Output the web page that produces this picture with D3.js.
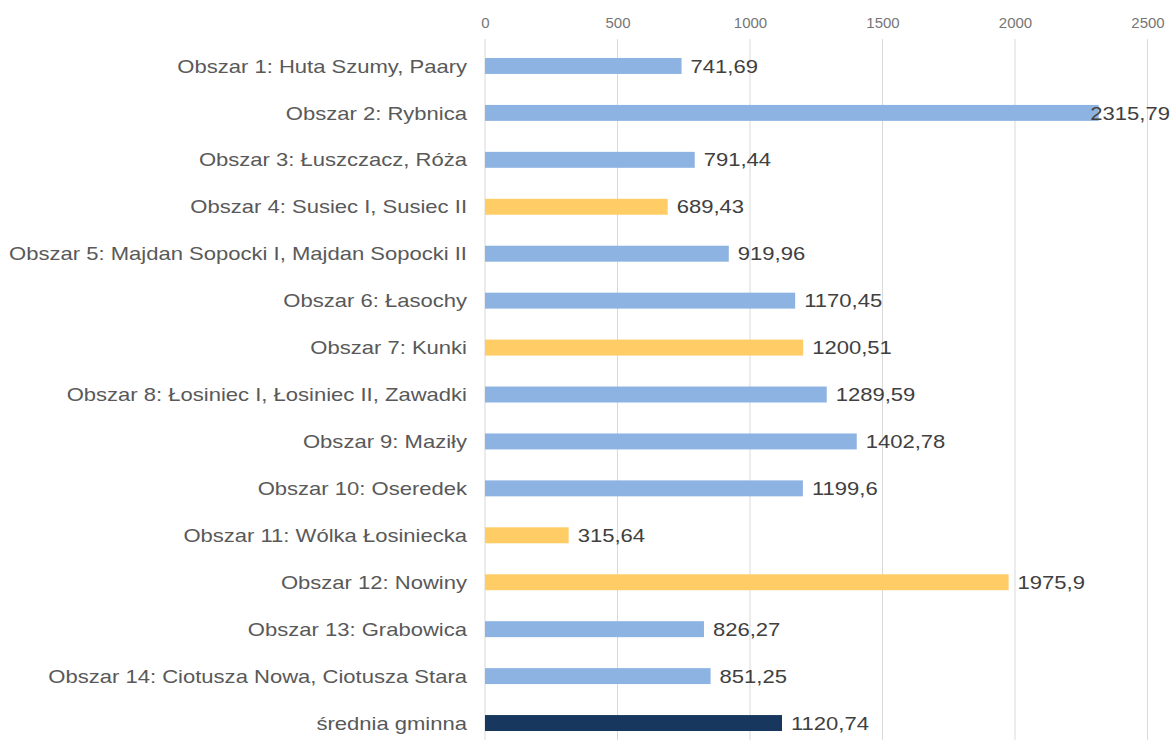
<!DOCTYPE html>
<html><head><meta charset="utf-8">
<script src="https://cdn.jsdelivr.net/npm/d3@7"></script>
<style>body{margin:0;background:#fff}svg{display:block}</style>
</head><body><svg id="c" width="1173" height="740"></svg>
<script>
const categories = ["Obszar 1: Huta Szumy, Paary","Obszar 2: Rybnica","Obszar 3: Łuszczacz, Róża","Obszar 4: Susiec I, Susiec II","Obszar 5: Majdan Sopocki I, Majdan Sopocki II","Obszar 6: Łasochy","Obszar 7: Kunki","Obszar 8: Łosiniec I, Łosiniec II, Zawadki","Obszar 9: Maziły","Obszar 10: Oseredek","Obszar 11: Wólka Łosiniecka","Obszar 12: Nowiny","Obszar 13: Grabowica","Obszar 14: Ciotusza Nowa, Ciotusza Stara","średnia gminna"];
const values = [741.69,2315.79,791.44,689.43,919.96,1170.45,1200.51,1289.59,1402.78,1199.6,315.64,1975.9,826.27,851.25,1120.74];
const valueLabels = ["741,69","2315,79","791,44","689,43","919,96","1170,45","1200,51","1289,59","1402,78","1199,6","315,64","1975,9","826,27","851,25","1120,74"];
const groups = ["a","a","a","b","a","a","b","a","a","a","b","b","a","a","c"];
const ticks = [0,500,1000,1500,2000,2500];
const colors = {a:"#8db3e2", b:"#ffcc66", c:"#17375e"};

const FONT = "'Liberation Sans', Arial, sans-serif";
const SX = 1.16;
const W = 1173;
const svg = d3.select("#c");
const x = d3.scaleLinear().domain([0,2500]).range([485,1147.5]);
const y = d3.scaleBand().domain(categories).range([42.5,746.5]).paddingInner(0.66).paddingOuter(0.33);

svg.append("g").selectAll("line").data(ticks).join("line")
  .attr("x1",d=>x(d)).attr("x2",d=>x(d)).attr("y1",39).attr("y2",740)
  .attr("stroke","#d9d9d9").attr("stroke-width",1);

const axis = svg.append("g").attr("transform","translate(0,33)")
  .call(d3.axisTop(x).tickValues(ticks).tickSize(0).tickPadding(5).tickFormat(d=>String(d)));
axis.select(".domain").remove();
axis.selectAll("text").attr("font-family",FONT).attr("font-size",15).attr("fill","#767676");

svg.append("g").selectAll("rect").data(values).join("rect")
  .attr("x",x(0)).attr("y",(d,i)=>y(categories[i]))
  .attr("width",d=>x(d)-x(0)).attr("height",y.bandwidth())
  .attr("fill",(d,i)=>colors[groups[i]]);

svg.append("g").selectAll("text").data(categories).join("text")
  .attr("transform",d=>`translate(467,${y(d)+y.bandwidth()/2}) scale(${SX},1)`)
  .attr("dy","0.35em")
  .attr("text-anchor","end").attr("font-family",FONT)
  .attr("font-size",19).attr("fill","#595959").text(d=>d);

svg.append("g").selectAll("text").data(values).join("text")
  .attr("dy","0.35em")
  .attr("font-family",FONT)
  .attr("font-size",19).attr("fill","#404040").text((d,i)=>valueLabels[i])
  .attr("transform",function(d,i){
    const w = this.getComputedTextLength()*SX;
    const px = Math.min(x(d)+9, W-3-w);
    return `translate(${px},${y(categories[i])+y.bandwidth()/2}) scale(${SX},1)`;
  });
</script></body></html>
